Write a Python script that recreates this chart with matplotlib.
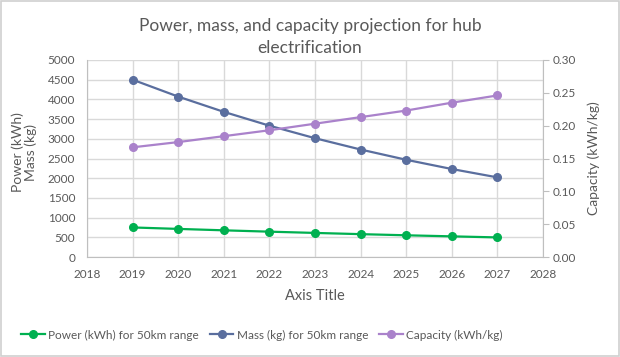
import matplotlib
matplotlib.use("Agg")
import matplotlib.pyplot as plt
from matplotlib.patches import Rectangle

plt.rcParams['font.family'] = ['Lato', 'DejaVu Sans']

years = [2019, 2020, 2021, 2022, 2023, 2024, 2025, 2026, 2027]
power = [750, 713, 677, 643, 611, 580, 551, 524, 497]
mass = [4500, 4071, 3684, 3333, 3015, 2728, 2468, 2233, 2021]
capacity = [0.167, 0.175, 0.184, 0.193, 0.203, 0.213, 0.223, 0.235, 0.246]

left_ticks = [0, 500, 1000, 1500, 2000, 2500, 3000, 3500, 4000, 4500, 5000]
right_ticks = [0.00, 0.05, 0.10, 0.15, 0.20, 0.25, 0.30]
x_ticks = list(range(2018, 2029))

TXT = '#595959'
GRID = '#D9D9D9'
C_POW = '#00B050'
C_MASS = '#5A6E9E'
C_CAP = '#AA82CB'

fig = plt.figure(figsize=(6.2, 3.57), dpi=100)
fig.patches.append(Rectangle((0.002, 0.003), 0.996, 0.994, transform=fig.transFigure,
                             fill=False, edgecolor='#D0D0D0', linewidth=1.2))

ax = fig.add_axes([87/620, 1-257/357, (543-87)/620, (257-60)/357])
ax2 = ax.twinx()

ax.set_xlim(2018, 2028)
ax.set_ylim(0, 5000)
ax2.set_ylim(0, 0.30)
ax.set_xticks(x_ticks)
ax.set_yticks(left_ticks)
ax2.set_yticks(right_ticks)
ax2.set_yticklabels([f'{v:.2f}' for v in right_ticks])

ax.grid(True, color=GRID, linewidth=1.0)
ax.set_axisbelow(True)
ax.spines['top'].set_visible(False)
ax2.spines['top'].set_visible(False)
ax.spines['left'].set_color('#BFBFBF')
ax.spines['bottom'].set_color('#BFBFBF')
ax.spines['right'].set_visible(False)
ax2.spines['left'].set_visible(False)
ax2.spines['bottom'].set_visible(False)
ax2.spines['right'].set_color('#BFBFBF')

ax.tick_params(axis='both', length=0, colors=TXT, labelsize=8.5)
ax.tick_params(axis='y', pad=8.5)
ax.tick_params(axis='x', pad=9)
ax2.tick_params(axis='y', length=4, color='#BFBFBF', colors=TXT, labelsize=8.5, pad=3)

lp, = ax.plot(years, power, color=C_POW, marker='o', markersize=5.5, linewidth=1.6, zorder=3)
lm, = ax.plot(years, mass, color=C_MASS, marker='o', markersize=5.5, linewidth=1.6, zorder=3)
lc, = ax2.plot(years, capacity, color=C_CAP, marker='o', markersize=5.5, linewidth=1.6, zorder=3)

fig.text(0.5, 1-26/357, 'Power, mass, and capacity projection for hub', ha='center', va='center',
         fontsize=12.5, color=TXT)
fig.text(0.5, 1-48/357, 'electrification', ha='center', va='center', fontsize=12.5, color=TXT)

fig.text(18/620, 1-152/357, 'Power (kWh)', rotation=90, ha='center', va='center', fontsize=10, color=TXT)
fig.text(31/620, 1-152/357, 'Mass (kg)', rotation=90, ha='center', va='center', fontsize=10, color=TXT)
fig.text(594/620, 1-158/357, 'Capacity (kWh/kg)', rotation=90, ha='center', va='center', fontsize=10, color=TXT)
fig.text(315/620, 1-296/357, 'Axis Title', ha='center', va='center', fontsize=10.5, color=TXT)

handles = [lp, lm, lc]
labels = ['Power (kWh) for 50km range', 'Mass (kg) for 50km range', 'Capacity (kWh/kg)']
leg = fig.legend(handles, labels, loc='center', bbox_to_anchor=(262/620, 1-335/357), ncol=3,
                 frameon=False, fontsize=8.5, handlelength=2.0, handletextpad=0.3,
                 columnspacing=0.9, labelcolor=TXT)

fig.savefig('out.png', dpi=100)
